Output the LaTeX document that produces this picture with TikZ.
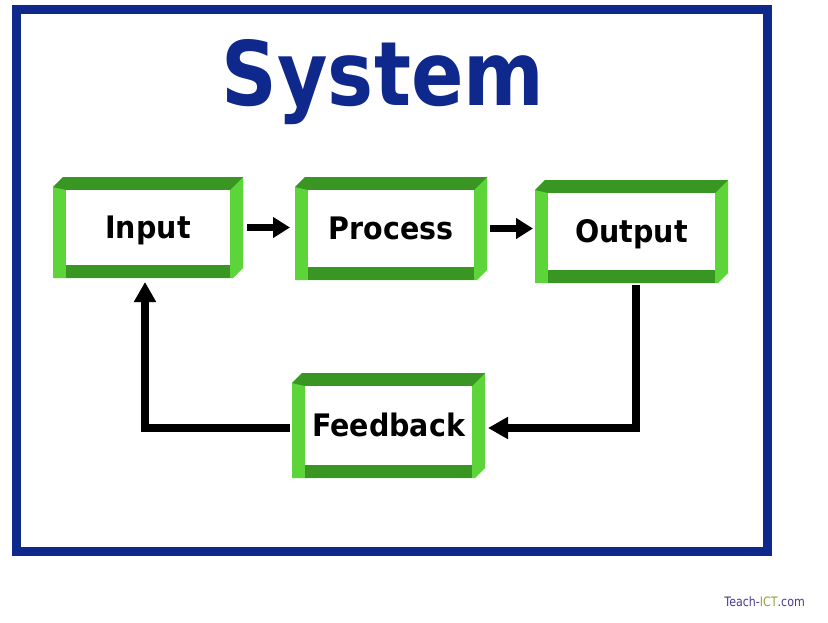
\documentclass[tikz,border=0pt]{standalone}
\usepackage{fontspec}
\usetikzlibrary{arrows.meta,calc}

\newfontfamily\titlefont{DejaVu Sans Bold}[FakeStretch=0.87]
\newfontfamily\labelfont{DejaVu Sans Bold}[FakeStretch=0.92]
\newfontfamily\markfont{DejaVu Sans}[FakeStretch=0.85]

\definecolor{frameblue}{RGB}{14,40,140}
\definecolor{bevellight}{RGB}{92,212,58}
\definecolor{beveldark}{RGB}{58,150,34}
\definecolor{markblue}{RGB}{70,60,140}
\definecolor{markgreen}{RGB}{150,160,60}

\tikzset{
  % green bevelled frame: light sides, dark top and bottom, cut corners
  bevelbox/.style={
    rectangle, inner sep=0pt, outer sep=0pt, fill=white,
    font=\labelfont\fontsize{31}{31}\selectfont,
    text height=22.6pt, text depth=0pt,
    path picture={
      \fill[bevellight] let \p1=(path picture bounding box.south west),
                            \p2=(path picture bounding box.north east) in
        (\x1,\y1) -- (\x1,\y2-10pt) -- (\x1+10pt,\y2) -- (\x2,\y2)
        -- (\x2,\y1+10pt) -- (\x2-10pt,\y1) -- cycle;
      \fill[beveldark] let \p1=(path picture bounding box.south west),
                           \p2=(path picture bounding box.north east) in
        (\x1,\y2-10pt) -- (\x1+10pt,\y2) -- (\x2,\y2)
        -- (\x2-13pt,\y2-13pt) -- (\x1+13pt,\y2-13pt) -- cycle;
      \fill[beveldark] let \p1=(path picture bounding box.south west),
                           \p2=(path picture bounding box.north east) in
        (\x1+13pt,\y1) -- (\x2-13pt,\y1) -- (\x2-13pt,\y1+13pt)
        -- (\x1+13pt,\y1+13pt) -- cycle;
      \fill[white] let \p1=(path picture bounding box.south west),
                       \p2=(path picture bounding box.north east) in
        (\x1+13pt,\y1+13pt) rectangle (\x2-13pt,\y2-13pt);
    }
  },
  flowarrow/.style={line width=7pt, -{Triangle[length=17pt,width=20pt]}},
  looparrow/.style={line width=8pt, line join=miter,
    -{Triangle[length=20pt,width=21pt]}},
}

\begin{document}
\begin{tikzpicture}[x=1pt, y=-1pt]
  \useasboundingbox (0,0) rectangle (828,622);

  % outer blue frame
  \draw[frameblue, line width=9pt] (16,9.5) rectangle (767,551);

  % title
  \node[font=\titlefont\fontsize{89}{89}\selectfont, text=frameblue,
        anchor=base, inner sep=0pt] (title) at (383,105) {System};

  % the four stages
  \node[bevelbox, minimum width=190pt, minimum height=101pt] (in)  at (148,227.5) {Input};
  \node[bevelbox, minimum width=192pt, minimum height=103pt] (pr)  at (391,228.5) {Process};
  \node[bevelbox, minimum width=193pt, minimum height=103pt] (out) at (631.5,231.5) {Output};
  \node[bevelbox, minimum width=193pt, minimum height=105pt] (fb)  at (388.5,425.5) {Feedback};

  % forward flow
  \draw[flowarrow, shorten <=4pt, shorten >=5pt] (in.east) -- (in.east -| pr.west);
  \draw[flowarrow, shorten <=3pt, shorten >=2pt] (pr.east) -- (pr.east -| out.west);

  % feedback loop
  \coordinate (outdrop) at ([xshift=4.5pt]out.south);
  \coordinate (fbin)    at ([yshift=-2.5pt]fb.east);
  \coordinate (fbout)   at ([yshift=-2.5pt]fb.west);
  \coordinate (inrise)  at ([xshift=-3pt]in.south);
  \draw[looparrow, shorten <=2pt, shorten >=3pt] (outdrop) |- (fbin);
  \draw[looparrow, shorten <=2pt, shorten >=4pt] (fbout) -| (inrise);

  % credit line
  \node[font=\markfont\fontsize{13}{13}\selectfont, anchor=east, inner sep=0pt]
    (credit) at (805,602)
    {\textcolor{markblue}{Teach-}\textcolor{markgreen}{ICT}\textcolor{markblue}{.com}};
\end{tikzpicture}
\end{document}
